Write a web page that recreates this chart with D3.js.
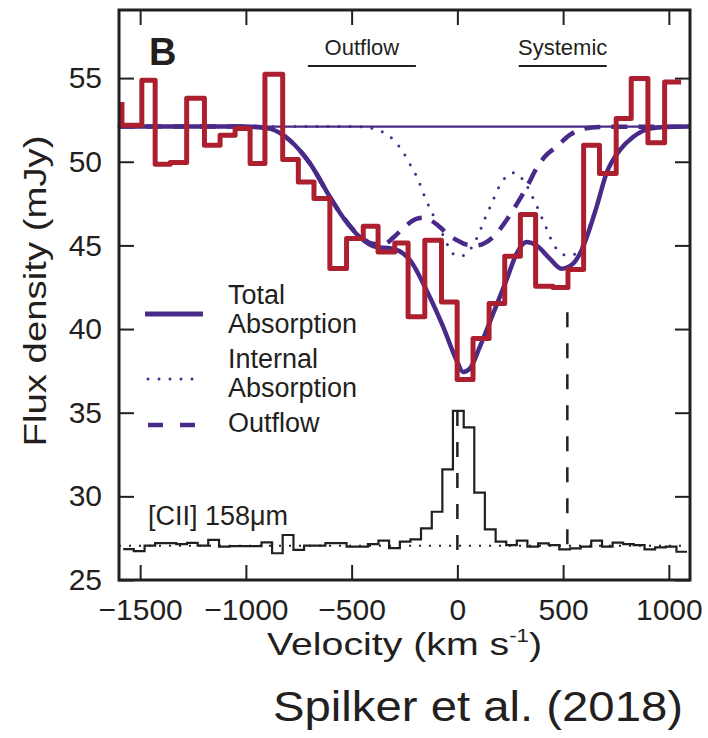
<!DOCTYPE html>
<html>
<head>
<meta charset="utf-8">
<script src="https://cdn.jsdelivr.net/npm/d3@7"></script>
<style>
  body { margin: 0; background: #fff; }
  svg { display: block; }
  text { font-family: "Liberation Sans", Arial, sans-serif; fill: #231f20; }
</style>
</head>
<body>
<div id="chart"></div>
<script>
// observed absorption spectrum (steps, right bin edges, km/s) and flux (mJy)
const absVel = [-1586, -1492, -1429, -1358, -1280, -1196, -1122, -1051, -980, -910,
  -826, -752, -678, -603, -524, -445, -375, -296, -233, -154, -75, -1, 74, 150, 224,
  298, 370, 452, 523, 597, 672, 751, 822, 901, 980, 1058];
const absFlux = [53.57, 52.18, 54.87, 49.85, 49.95, 53.8, 50.98, 51.58, 51.98, 49.89,
  55.23, 50.13, 48.79, 47.8, 43.62, 45.41, 46.15, 44.61, 45.15, 40.73, 45.31, 41.62,
  36.99, 39.44, 41.53, 44.35, 46.85, 42.56, 42.48, 43.56, 50.98, 49.3, 52.58, 54.97,
  51.13, 54.77];

// model curves
const totalVel = [-1600, -1000, -950, -886, -792, -697, -603, -541, -461, -380, -319,
  -258, -224, -146, -67, -4, 27, 59, 106, 169, 232, 280, 327, 374, 437, 492, 547, 587,
  658, 705, 768, 831, 910, 990, 1100];
const totalFlux = [52.1, 52.1, 52.08, 51.98, 51.28, 49.9, 47.9, 46.68, 45.49, 44.89,
  44.83, 44.53, 44.12, 42.32, 40.13, 38.14, 37.44, 37.64, 38.93, 40.92, 42.92, 44.51,
  45.2, 45.0, 44.21, 43.61, 43.91, 44.7, 47.29, 49.31, 50.69, 51.48, 51.98, 52.08, 52.1];

const internalVel = [-1600, -470, -429, -376, -328, -287, -257, -235, -185, -154, -106,
  -67, -20, 15, 50, 98, 130, 162, 193, 220, 248, 272, 295, 327, 351, 374, 398, 422,
  453, 484, 520, 550, 587, 620, 658, 705, 768, 831, 910, 990, 1100];
const internalFlux = [52.1, 52.1, 52.06, 51.9, 51.6, 51.1, 50.6, 50.1, 48.9, 47.9,
  46.6, 45.6, 44.5, 44.35, 44.6, 45.6, 46.6, 47.5, 48.4, 48.95, 49.3, 49.35, 49.15,
  48.6, 48.0, 47.4, 46.7, 46.0, 45.1, 44.6, 44.4, 44.45, 44.9, 46.0, 47.4, 49.35,
  50.7, 51.5, 52.0, 52.08, 52.1];

const outflowVel = [-1600, -1000, -950, -886, -792, -697, -603, -541, -461, -400,
  -350, -300, -250, -200, -160, -120, -83, -40, 0, 43, 90, 130, 177, 232, 280, 333,
  374, 413, 469, 532, 587, 673, 1100];
const outflowFlux = [52.1, 52.1, 52.08, 51.98, 51.28, 49.9, 47.9, 46.7, 45.55, 45.1,
  45.05, 45.5, 46.1, 46.55, 46.65, 46.45, 46.1, 45.6, 45.3, 45.05, 45.0, 45.15, 45.6,
  46.5, 47.45, 48.6, 49.6, 50.3, 50.9, 51.6, 51.95, 52.08, 52.1];

const continuum = 52.1;

// [CII] 158um emission (channel edges, km/s) and flux per channel (mJy, offset)
const ciiEdges = [-1580, -1530, -1479, -1429, -1379, -1329, -1278, -1228, -1178,
  -1127, -1077, -1027, -976, -926, -876, -826, -775, -725, -675, -624, -574, -524,
  -473, -423, -373, -323, -272, -222, -172, -121, -71, -21, 30, 80, 130, 181, 231,
  281, 331, 382, 432, 482, 533, 583, 633, 684, 734, 784, 834, 885, 935, 985, 1036, 1086];
const ciiFlux = [26.85, 26.72, 27.05, 27.2, 27.2, 27.15, 27.22, 27.05, 27.4, 27.0,
  27.02, 27.02, 27.02, 27.25, 26.6, 27.69, 26.8, 27.05, 27.05, 27.2, 27.2, 27.0, 27.0,
  27.15, 27.35, 26.9, 27.29, 27.43, 28.09, 29.08, 31.61, 35.11, 34.12, 30.22, 28.03,
  27.29, 27.09, 27.35, 26.99, 27.19, 27.09, 26.83, 26.89, 26.99, 27.35, 26.99, 27.23,
  27.15, 27.09, 26.83, 26.95, 26.99, 26.69];
const ciiBaseline = 27.05;

// dashed reference velocities
const refVel = [0, 520];
const refTop = [35.1, 41.0];
const refBottom = 26.7;

// velocity ranges marked at the top
const bandNames = ["Outflow", "Systemic"];
const bandFrom = [-707, 290];
const bandTo = [-196, 706];

const xTicks = [-1500, -1000, -500, 0, 500, 1000];
const yTicks = [25, 30, 35, 40, 45, 50, 55];

const legendNames = [["Total", "Absorption"], ["Internal", "Absorption"], ["Outflow"]];

const purple = "#4a2a88";
const red = "#ab1f2f";
const ink = "#231f20";

const width = 708, height = 738;
const mLeft = 119, mRight = 690, mTop = 10, mBottom = 580;

const svg = d3.select("#chart").append("svg")
  .attr("width", width).attr("height", height);

const x = d3.scaleLinear().domain([-1600, 1100]).range([mLeft, mRight]);
const y = d3.scaleLinear().domain([25, 59.07]).range([mBottom, mTop]);

const zip = (a, b) => a.map((v, i) => [v, b[i]]);
const smooth = d3.line().x(d => x(d[0])).y(d => y(d[1])).curve(d3.curveMonotoneX);

const plot = svg.append("g");

// continuum
plot.append("line")
  .attr("x1", mLeft).attr("x2", mRight)
  .attr("y1", y(continuum)).attr("y2", y(continuum))
  .attr("stroke", purple).attr("stroke-width", 2.2);

plot.append("path")
  .attr("d", smooth(zip(internalVel, internalFlux)))
  .attr("fill", "none").attr("stroke", purple)
  .attr("stroke-width", 3).attr("stroke-linecap", "round")
  .attr("stroke-dasharray", "0,11");

plot.append("path")
  .attr("d", smooth(zip(outflowVel, outflowFlux)))
  .attr("fill", "none").attr("stroke", purple)
  .attr("stroke-width", 4.5).attr("stroke-dasharray", "16,11");

plot.append("path")
  .attr("d", smooth(zip(totalVel, totalFlux)))
  .attr("fill", "none").attr("stroke", purple).attr("stroke-width", 4.5);

// observed spectrum
const stepBefore = d3.line().x(d => x(d[0])).y(d => y(d[1])).curve(d3.curveStepBefore);
plot.append("path")
  .attr("d", stepBefore(zip(absVel, absFlux)))
  .attr("fill", "none").attr("stroke", red)
  .attr("stroke-width", 5).attr("stroke-linejoin", "round");

// [CII]
plot.append("line")
  .attr("x1", mLeft).attr("x2", mRight)
  .attr("y1", y(ciiBaseline)).attr("y2", y(ciiBaseline))
  .attr("stroke", ink).attr("stroke-width", 2)
  .attr("stroke-dasharray", "2,8");

const ciiPts = ciiEdges.map((v, i) => [v, ciiFlux[Math.min(i, ciiFlux.length - 1)]]);
const stepAfter = d3.line().x(d => x(d[0])).y(d => y(d[1])).curve(d3.curveStepAfter);
plot.append("path")
  .attr("d", stepAfter(ciiPts))
  .attr("fill", "none").attr("stroke", ink).attr("stroke-width", 2.2);

refVel.forEach((v, i) => {
  plot.append("line")
    .attr("x1", x(v)).attr("x2", x(v))
    .attr("y1", y(refTop[i])).attr("y2", y(refBottom))
    .attr("stroke", ink).attr("stroke-width", 2.5)
    .attr("stroke-dasharray", "15,16");
});

// top bands
bandNames.forEach((name, i) => {
  const cx = (x(bandFrom[i]) + x(bandTo[i])) / 2;
  svg.append("line")
    .attr("x1", x(bandFrom[i])).attr("x2", x(bandTo[i]))
    .attr("y1", 66).attr("y2", 66)
    .attr("stroke", ink).attr("stroke-width", 2.2);
  svg.append("text")
    .attr("x", cx).attr("y", 55)
    .attr("text-anchor", "middle")
    .style("font-size", "22px")
    .text(name);
});

svg.append("text")
  .attr("x", 149).attr("y", 65)
  .style("font-size", "38px").style("font-weight", "bold")
  .text("B");

svg.append("text")
  .attr("x", 148).attr("y", 525)
  .style("font-size", "27px")
  .text("[CII] 158μm");

// legend
const legY = [[304, 333], [368, 397], [432]];
const legLineY = [314, 379, 425];
legendNames.forEach((lines, i) => {
  const t = svg.append("text").style("font-size", "27px");
  lines.forEach((s, j) => {
    t.append("tspan").attr("x", 228).attr("y", legY[i][j]).text(s);
  });
});
svg.append("line").attr("x1", 145).attr("x2", 203)
  .attr("y1", legLineY[0]).attr("y2", legLineY[0])
  .attr("stroke", purple).attr("stroke-width", 5);
svg.append("line").attr("x1", 148).attr("x2", 194)
  .attr("y1", legLineY[1]).attr("y2", legLineY[1])
  .attr("stroke", purple).attr("stroke-width", 3)
  .attr("stroke-linecap", "round").attr("stroke-dasharray", "0,11");
svg.append("line").attr("x1", 148).attr("x2", 196)
  .attr("y1", legLineY[2]).attr("y2", legLineY[2])
  .attr("stroke", purple).attr("stroke-width", 4.5)
  .attr("stroke-dasharray", "15,17");

// axes
const fmt = d3.format("d");
const gx = svg.append("g").attr("transform", `translate(0,${mBottom})`)
  .call(d3.axisBottom(x).tickValues(xTicks).tickFormat(fmt)
    .tickSizeInner(-15).tickSizeOuter(0).tickPadding(19));
const gxTop = svg.append("g").attr("transform", `translate(0,${mTop})`)
  .call(d3.axisTop(x).tickValues(xTicks).tickFormat("")
    .tickSizeInner(-15).tickSizeOuter(0));
const gy = svg.append("g").attr("transform", `translate(${mLeft},0)`)
  .call(d3.axisLeft(y).tickValues(yTicks).tickFormat(fmt)
    .tickSizeInner(-15).tickSizeOuter(0).tickPadding(17));
const gyRight = svg.append("g").attr("transform", `translate(${mRight},0)`)
  .call(d3.axisRight(y).tickValues(yTicks).tickFormat("")
    .tickSizeInner(-15).tickSizeOuter(0));

[gx, gxTop, gy, gyRight].forEach(g => {
  g.select(".domain").remove();
  g.selectAll(".tick line").attr("stroke", ink).attr("stroke-width", 2);
  g.selectAll("text").attr("fill", ink)
    .style("font-family", "'Liberation Sans', Arial, sans-serif")
    .style("font-size", "30px");
});

svg.append("rect")
  .attr("x", mLeft).attr("y", mTop)
  .attr("width", mRight - mLeft).attr("height", mBottom - mTop)
  .attr("fill", "none").attr("stroke", ink).attr("stroke-width", 3);

// titles
const xt = svg.append("text")
  .attr("x", 267).attr("y", 655)
  .attr("textLength", 275).attr("lengthAdjust", "spacingAndGlyphs")
  .style("font-size", "32px");
xt.append("tspan").text("Velocity (km s");
xt.append("tspan").attr("dy", -13).style("font-size", "18px").text("-1");
xt.append("tspan").attr("dy", 13).text(")");

svg.append("text")
  .attr("transform", "translate(46,291) rotate(-90)")
  .attr("text-anchor", "middle")
  .attr("textLength", 311).attr("lengthAdjust", "spacingAndGlyphs")
  .style("font-size", "32px")
  .text("Flux density (mJy)");

svg.append("text")
  .attr("x", 273).attr("y", 721)
  .attr("textLength", 410).attr("lengthAdjust", "spacingAndGlyphs")
  .style("font-size", "43px")
  .text("Spilker et al. (2018)");
</script>
</body>
</html>
